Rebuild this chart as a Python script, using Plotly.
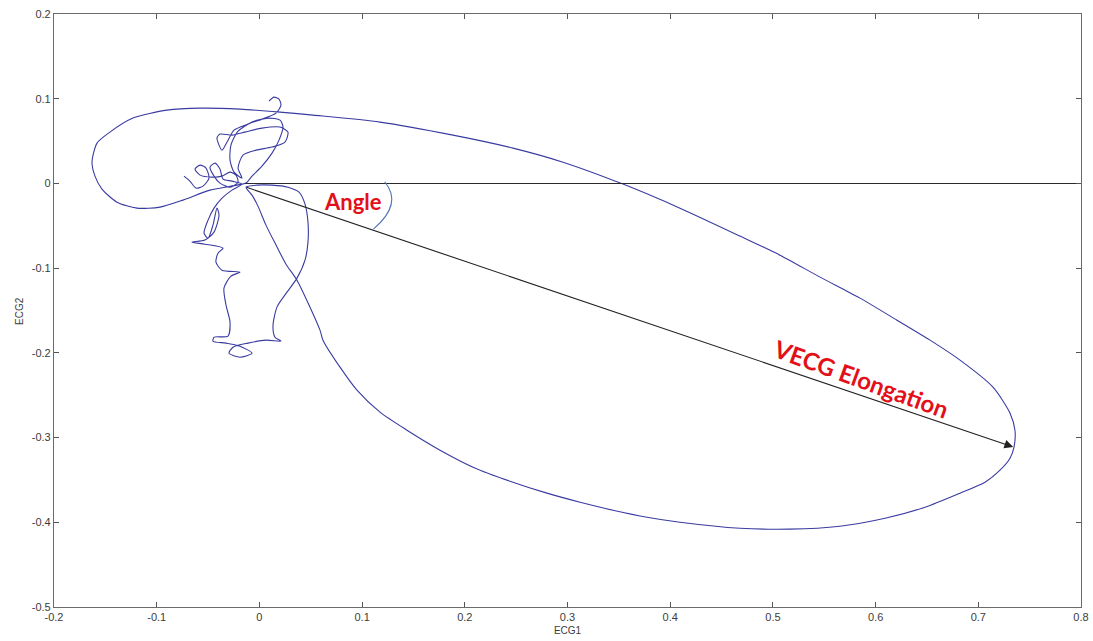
import plotly.graph_objects as go

# Vectorcardiogram trace: ECG1 (horizontal lead) vs ECG2 (vertical lead)
ecg1 = [
    # small P-wave knot near the origin
    -0.0734, -0.0676, -0.0617, -0.0549, -0.0491, -0.0520, -0.0578, -0.0627, -0.0578, -0.0462,
    -0.0364, -0.0286, -0.0228, -0.0208, -0.0286, -0.0384, -0.0442, -0.0481, -0.0432, -0.0384,
    -0.0354, -0.0267, -0.0169,
    # lower wandering segment
    -0.0267, -0.0364, -0.0442, -0.0500, -0.0539, -0.0500, -0.0452, -0.0413, -0.0393, -0.0442,
    -0.0530, -0.0656, -0.0530, -0.0354, -0.0403, -0.0423, -0.0364, -0.0189, -0.0277, -0.0345,
    -0.0325, -0.0286, -0.0306, -0.0440, -0.0452, -0.0325, -0.0189, -0.0072, -0.0189, -0.0296,
    -0.0257, -0.0111, 0.0064, 0.0210, 0.0152, 0.0132, 0.0171, 0.0269, 0.0366, 0.0444,
    0.0473, 0.0473, 0.0444, 0.0386, 0.0278, 0.0123, -0.0023, -0.0130,
    # QRS loop
    -0.0072, -0.0014, 0.0064, 0.0162, 0.0259, 0.0366, 0.0590, 0.0619, 0.0785, 0.0950,
    0.1174, 0.1437, 0.1759, 0.2080, 0.2440, 0.2800, 0.3122, 0.3443, 0.3774, 0.4095,
    0.4680, 0.5166, 0.5653, 0.6092, 0.6481, 0.6822, 0.7065, 0.7211, 0.7309, 0.7348,
    0.7357, 0.7309, 0.7143, 0.6822, 0.6530, 0.6208, 0.5848, 0.5459, 0.5069, 0.4680,
    0.4095, 0.3540, 0.2956, 0.2469, 0.1885, 0.1174, 0.0522, 0.0201, -0.0189, -0.0578,
    -0.0900, -0.1231, -0.1455, -0.1581, -0.1630, -0.1601, -0.1533, -0.1387, -0.1192, -0.0968,
    -0.0744, -0.0481, -0.0218,
    # T-wave tangle above the origin
    -0.0130, -0.0072, 0.0025, 0.0123, 0.0191, 0.0230, 0.0201, 0.0084, -0.0072, -0.0208,
    -0.0277, -0.0286, -0.0247, -0.0169, -0.0208, -0.0160, -0.0033, 0.0123, 0.0249, 0.0278,
    0.0201, 0.0025, -0.0140, -0.0267, -0.0384, -0.0413, -0.0364, -0.0315, -0.0247, -0.0111,
    0.0025, 0.0162, 0.0210, 0.0191, 0.0142, 0.0093,
]
ecg2 = [
    0.0086, 0.0027, -0.0055, -0.0032, 0.0063, 0.0181, 0.0216, 0.0169, 0.0098, 0.0074,
    0.0086, 0.0133, 0.0098, 0.0015, -0.0044, 0.0004, 0.0086, 0.0192, 0.0240, 0.0169,
    0.0051, 0.0027, -0.0008,
    -0.0079, -0.0174, -0.0292, -0.0433, -0.0587, -0.0646, -0.0492, -0.0292, -0.0374, -0.0575,
    -0.0669, -0.0693, -0.0717, -0.0764, -0.0823, -0.0929, -0.1024, -0.1047, -0.1094, -0.1236,
    -0.1437, -0.1638, -0.1803, -0.1815, -0.1862, -0.1885, -0.1921, -0.2004, -0.2051, -0.2004,
    -0.1933, -0.1885, -0.1850, -0.1862, -0.1815, -0.1685, -0.1460, -0.1283, -0.1118, -0.0906,
    -0.0693, -0.0457, -0.0244, -0.0103, -0.0044, -0.0020, -0.0020, -0.0044,
    -0.0138, -0.0268, -0.0492, -0.0728, -0.0953, -0.1142, -0.1732, -0.1850, -0.2169, -0.2440,
    -0.2700, -0.2913, -0.3149, -0.3349, -0.3515, -0.3656, -0.3763, -0.3857, -0.3940, -0.3999,
    -0.4070, -0.4081, -0.4046, -0.3952, -0.3822, -0.3656, -0.3527, -0.3385, -0.3243, -0.3113,
    -0.2913, -0.2712, -0.2405, -0.2086, -0.1850, -0.1614, -0.1354, -0.1106, -0.0847, -0.0622,
    -0.0292, -0.0008, 0.0251, 0.0417, 0.0570, 0.0724, 0.0806, 0.0842, 0.0877, 0.0889,
    0.0865, 0.0771, 0.0606, 0.0476, 0.0251, 0.0086, -0.0067, -0.0221, -0.0292, -0.0280,
    -0.0197, -0.0079, -0.0020,
    0.0004, 0.0086, 0.0204, 0.0358, 0.0511, 0.0665, 0.0747, 0.0771, 0.0724, 0.0617,
    0.0452, 0.0275, 0.0133, 0.0063, 0.0181, 0.0334, 0.0393, 0.0429, 0.0488, 0.0606,
    0.0665, 0.0653, 0.0606, 0.0570, 0.0582, 0.0535, 0.0393, 0.0488, 0.0629, 0.0700,
    0.0759, 0.0830, 0.0924, 0.0995, 0.1019, 0.0972,
]

# Reference direction (horizontal) and the loop's maximal vector
axis_start = (-0.014, 0.0)
axis_end = (0.8, 0.0)
vector_start = (-0.014, -0.004)
vector_tip = (0.734, -0.311)

# Angle marker arc (quadratic Bezier in data units)
arc_from = (0.122, 0.002)
arc_ctrl = (0.140, -0.024)
arc_to = (0.111, -0.054)

x_ticks = [-0.2, -0.1, 0, 0.1, 0.2, 0.3, 0.4, 0.5, 0.6, 0.7, 0.8]
x_labels = ["-0.2", "-0.1", "0", "0.1", "0.2", "0.3", "0.4", "0.5", "0.6", "0.7", "0.8"]
y_ticks = [-0.5, -0.4, -0.3, -0.2, -0.1, 0, 0.1, 0.2]
y_labels = ["-0.5", "-0.4", "-0.3", "-0.2", "-0.1", "0", "0.1", "0.2"]

label_font = dict(family="Liberation Sans, Arial, sans-serif", size=10, color="#3c3c3c")

fig = go.Figure()

fig.add_trace(go.Scatter(
    x=ecg1, y=ecg2, mode="lines",
    line=dict(color="#3a3ba0", width=1.1, shape="spline", smoothing=0.7),
    hoverinfo="skip", showlegend=False,
))

fig.add_trace(go.Scatter(
    x=[axis_start[0], axis_end[0]], y=[axis_start[1], axis_end[1]], mode="lines",
    line=dict(color="#2a2a2a", width=1.1),
    hoverinfo="skip", showlegend=False,
))

fig.add_shape(
    type="path",
    path=f"M {arc_from[0]},{arc_from[1]} Q {arc_ctrl[0]},{arc_ctrl[1]} {arc_to[0]},{arc_to[1]}",
    xref="x", yref="y",
    line=dict(color="#4f78b8", width=1.1),
)

fig.add_annotation(
    x=vector_tip[0], y=vector_tip[1], ax=vector_start[0], ay=vector_start[1],
    xref="x", yref="y", axref="x", ayref="y",
    showarrow=True, arrowhead=2, arrowsize=1.6, arrowwidth=1.1,
    arrowcolor="#222222", standoff=0, text="",
)

fig.add_annotation(
    x=0.091, y=-0.021, xref="x", yref="y", text="<b>Angle</b>", showarrow=False,
    font=dict(family="Lato, 'Open Sans', sans-serif", size=22, color="#e3101a"),
)
fig.add_annotation(
    x=0.586, y=-0.230, xref="x", yref="y", text="<b>VECG Elongation</b>", showarrow=False,
    textangle=20,
    font=dict(family="Lato, 'Open Sans', sans-serif", size=24, color="#e3101a"),
)

# Vertical axis title, set close to the left edge
fig.add_annotation(
    x=-0.041, y=0.5, xref="paper", yref="paper", text="ECG2", showarrow=False,
    textangle=-90, font=label_font,
)

axis_common = dict(
    showline=True, linecolor="#6a6a6a", linewidth=1.2, mirror="ticks",
    ticks="inside", ticklen=5, tickcolor="#555555", tickwidth=1.2,
    showgrid=False, zeroline=False, automargin=False,
    tickfont=dict(family="Liberation Sans, Arial, sans-serif", size=11, color="#3c3c3c"),
)

fig.update_xaxes(
    range=[-0.2, 0.8], tickvals=x_ticks, ticktext=x_labels,
    title=dict(text="ECG1", standoff=4, font=label_font),
    **axis_common,
)
fig.update_yaxes(
    range=[-0.5, 0.2], tickvals=y_ticks, ticktext=y_labels,
    **axis_common,
)

fig.update_layout(
    width=1093, height=641,
    margin=dict(l=54, r=12, t=14, b=34),
    paper_bgcolor="white", plot_bgcolor="white",
)

fig.write_html("out.html")
